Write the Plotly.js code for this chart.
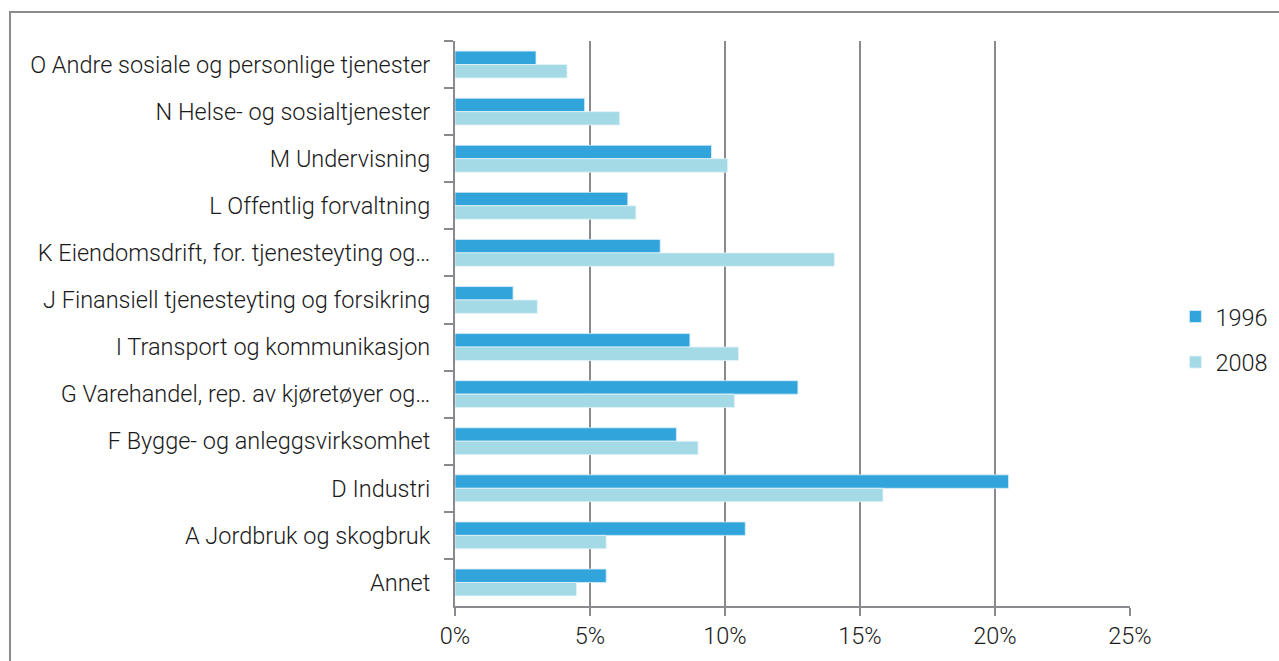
<!DOCTYPE html>
<html>
<head>
<meta charset="utf-8">
<script src="https://cdn.plot.ly/plotly-3.0.1.min.js"></script>
<style>
  html, body { margin: 0; padding: 0; background: #fff; overflow: hidden; }
  #frame { position: absolute; left: 9px; top: 11px; width: 2000px; height: 2000px;
           border-left: 2px solid #8c8c8c; border-top: 2px solid #8c8c8c; box-sizing: border-box; }
  #chart { position: absolute; left: 0; top: 0; width: 1279px; height: 661px; }
</style>
</head>
<body>
<div id="frame"></div>
<div id="chart"></div>
<script>
const categories = [
  "O Andre sosiale og personlige tjenester",
  "N Helse- og sosialtjenester",
  "M Undervisning",
  "L Offentlig forvaltning",
  "K Eiendomsdrift, for. tjenesteyting og…",
  "J Finansiell tjenesteyting og forsikring",
  "I Transport og kommunikasjon",
  "G Varehandel, rep. av kjøretøyer og…",
  "F Bygge- og anleggsvirksomhet",
  "D Industri",
  "A Jordbruk og skogbruk",
  "Annet"
];
const values1996 = [3.0, 4.8, 9.5, 6.4, 7.6, 2.15, 8.7, 12.7, 8.2, 20.5, 10.75, 5.6];
const values2008 = [4.15, 6.1, 10.1, 6.7, 14.05, 3.05, 10.5, 10.35, 9.0, 15.85, 5.6, 4.5];
const seriesNames = ["1996", "2008"];
const xTicks = [0, 5, 10, 15, 20, 25];
const xTickLabels = ["0%", "5%", "10%", "15%", "20%", "25%"];

const fontFam = "Roboto, 'DejaVu Sans', sans-serif";
const baseFont = { family: fontFam, size: 23.5, color: "#1a1a1a", weight: 300 };
const traces = [
  { type: "bar", orientation: "h", name: seriesNames[0], y: categories, x: values1996, legendgroup: "a",
    marker: { color: "#31a4dc", line: { color: "#d8eef8", width: 0.8 } } },
  { type: "bar", orientation: "h", name: seriesNames[1], y: categories, x: values2008, legendgroup: "b",
    marker: { color: "#a3dae6", line: { color: "#e3f4f8", width: 0.8 } } }
];
const layout = {
  width: 1279, height: 661,
  paper_bgcolor: "rgba(0,0,0,0)", plot_bgcolor: "rgba(0,0,0,0)",
  margin: { l: 455, r: 149, t: 41, b: 55, pad: 0, autoexpand: false },
  barmode: "group", bargap: 0.43, bargroupgap: 0,
  font: baseFont,
  showlegend: true,
  legend: { xref: "container", yref: "container", x: 0.919, xanchor: "left",
            y: 0.486, yanchor: "middle", traceorder: "grouped",
            font: baseFont, itemwidth: 30,
            tracegroupgap: 12, bgcolor: "rgba(0,0,0,0)" },
  xaxis: {
    range: [0, 25], tickvals: xTicks, ticktext: xTickLabels,
    showgrid: true, gridcolor: "#8a8a8e", gridwidth: 2,
    showline: true, linecolor: "#8a8a8e", linewidth: 2,
    ticks: "outside", ticklen: 8, tickcolor: "#8a8a8e", tickwidth: 2,
    zeroline: false, fixedrange: true,
    tickfont: baseFont
  },
  yaxis: {
    type: "category", autorange: "reversed",
    showline: true, linecolor: "#8a8a8e", linewidth: 2,
    ticks: "outside", ticklen: 9, tickcolor: "#8a8a8e", tickwidth: 2,
    tickson: "boundaries", showgrid: false, ticklabelstandoff: 18,
    tickfont: baseFont, fixedrange: true
  }
};
Plotly.newPlot("chart", traces, layout, { displayModeBar: false, staticPlot: true });
</script>
</body>
</html>
